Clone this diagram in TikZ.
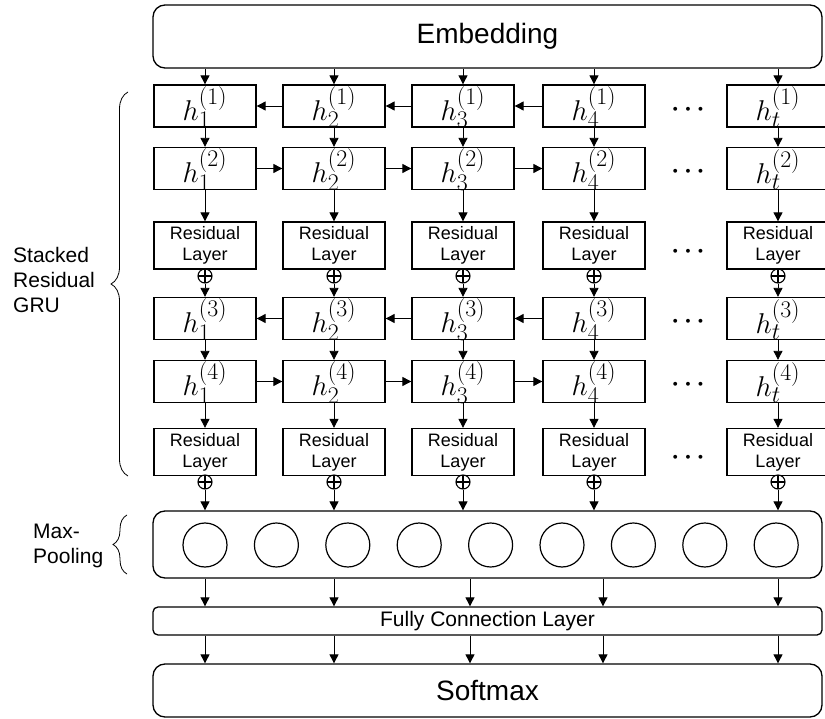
\documentclass[tikz,border=0pt]{standalone}
\usepackage{graphicx}
\usepackage{fontspec}
\setmainfont{Liberation Sans}
\usetikzlibrary{arrows.meta,decorations.pathreplacing}
\newcommand\hlabel[2]{\raisebox{-1pt}[\height][\depth]{\scalebox{1.15}{$h_{#1}^{(#2)}$}}}
\begin{document}
\begin{tikzpicture}[x=1pt,y=-1pt,
 hbox/.style={draw, line width=1.3pt, minimum width=102pt, minimum height=42pt, inner sep=0pt, font=\fontsize{24.88}{30}\selectfont},
 rbox/.style={hbox, minimum height=47pt, align=center, font=\fontsize{18}{21}\selectfont},
 bigbox/.style={draw, line width=1.3pt, rounded corners=12pt, inner sep=0pt, minimum width=669pt},
 arr/.style={-{Triangle[length=9pt,width=9pt]}, line width=0.9pt},
 oplus/.style={circle, draw, line width=1.1pt, minimum size=14pt, inner sep=0pt,
   path picture={\draw[line width=1.1pt] (path picture bounding box.north) -- (path picture bounding box.south) (path picture bounding box.west) -- (path picture bounding box.east);}},
 pool/.style={circle, draw, line width=1.2pt, minimum size=44pt, inner sep=0pt},
 dotsnode/.style={font=\boldmath\fontsize{24.88}{25}\selectfont, inner sep=0pt},
 sidelabel/.style={align=left, font=\fontsize{21}{25}\selectfont, inner sep=0pt, anchor=west},
 bracepath/.style={decorate, decoration={brace, amplitude=#1}, line width=0.8pt},
]
\useasboundingbox (0,0) rectangle (825,719);

% big boxes
\node[bigbox, minimum height=63pt, font=\fontsize{28}{30}\selectfont] (emb) at (487.5,36.5) {Embedding};
\node[bigbox, minimum height=67pt] (mp) at (487.5,544.5) {};
\node[bigbox, minimum height=28pt, rounded corners=5pt, font=\fontsize{21}{24}\selectfont] (fc) at (487.5,621) {Fully Connection Layer};
\node[bigbox, minimum height=53pt, font=\fontsize{28}{30}\selectfont] (sm) at (487.5,690.5) {Softmax};

% columns
\foreach \x/\s [count=\i] in {205/1,334/2,463/3,594/4,778/t}{
  \node[hbox] (h1-\i) at (\x,106) {\hlabel{\s}{1}};
  \node[hbox] (h2-\i) at (\x,168.5) {\hlabel{\s}{2}};
  \node[rbox] (r1-\i) at (\x,245.5) {Residual\\Layer};
  \node[oplus] (p1-\i) at (\x,276) {};
  \node[hbox] (h3-\i) at (\x,318.5) {\hlabel{\s}{3}};
  \node[hbox] (h4-\i) at (\x,381.5) {\hlabel{\s}{4}};
  \node[rbox] (r2-\i) at (\x,452) {Residual\\Layer};
  \node[oplus] (p2-\i) at (\x,482) {};
  \draw[arr] (h1-\i.north |- emb.south) -- (h1-\i.north);
  \draw[arr] (h1-\i) -- (h2-\i);
  \draw[arr] (h2-\i) -- (r1-\i);
  \draw[arr] (p1-\i) -- (h3-\i);
  \draw[arr] (h3-\i) -- (h4-\i);
  \draw[arr] (h4-\i) -- (r2-\i);
  \draw[arr] (p2-\i.south) -- (p2-\i.south |- mp.north);
}

% horizontal recurrences
\foreach \i [evaluate=\i as \j using int(\i+1)] in {1,2,3}{
  \draw[arr] (h1-\j) -- (h1-\i);
  \draw[arr] (h2-\i) -- (h2-\j);
  \draw[arr] (h3-\j) -- (h3-\i);
  \draw[arr] (h4-\i) -- (h4-\j);
}

% ellipses
\node[dotsnode] (d1) at (688,110) {$\cdots$};
\node[dotsnode] (d2) at (688,172) {$\cdots$};
\node[dotsnode] (d3) at (688,252) {$\cdots$};
\node[dotsnode] (d4) at (688,322) {$\cdots$};
\node[dotsnode] (d5) at (688,385) {$\cdots$};
\node[dotsnode] (d6) at (688,458) {$\cdots$};

% pooling circles
\foreach \k in {0,...,8}{
  \node[pool] (c\k) at ({205+71.4*\k},545) {};
}

% bottom arrows
\foreach \x [count=\i] in {205,334,470,603,778}{
  \coordinate (b\i) at (\x,600);
  \draw[arr] (b\i |- mp.south) -- (b\i |- fc.north);
  \draw[arr] (b\i |- fc.south) -- (b\i |- sm.north);
}

% braces and side labels
\coordinate (sbt) at (128,476);
\coordinate (stp) at (128,92);
\draw[bracepath=17pt] (sbt) -- (stp);
\node[sidelabel] (slab) at (13,280) {Stacked\\Residual\\GRU};
\coordinate (mbt) at (127,574);
\coordinate (mtp) at (127,515);
\draw[bracepath=14pt] (mbt) -- (mtp);
\node[sidelabel] (mlab) at (33,546) {Max-\\Pooling};
\end{tikzpicture}
\end{document}
